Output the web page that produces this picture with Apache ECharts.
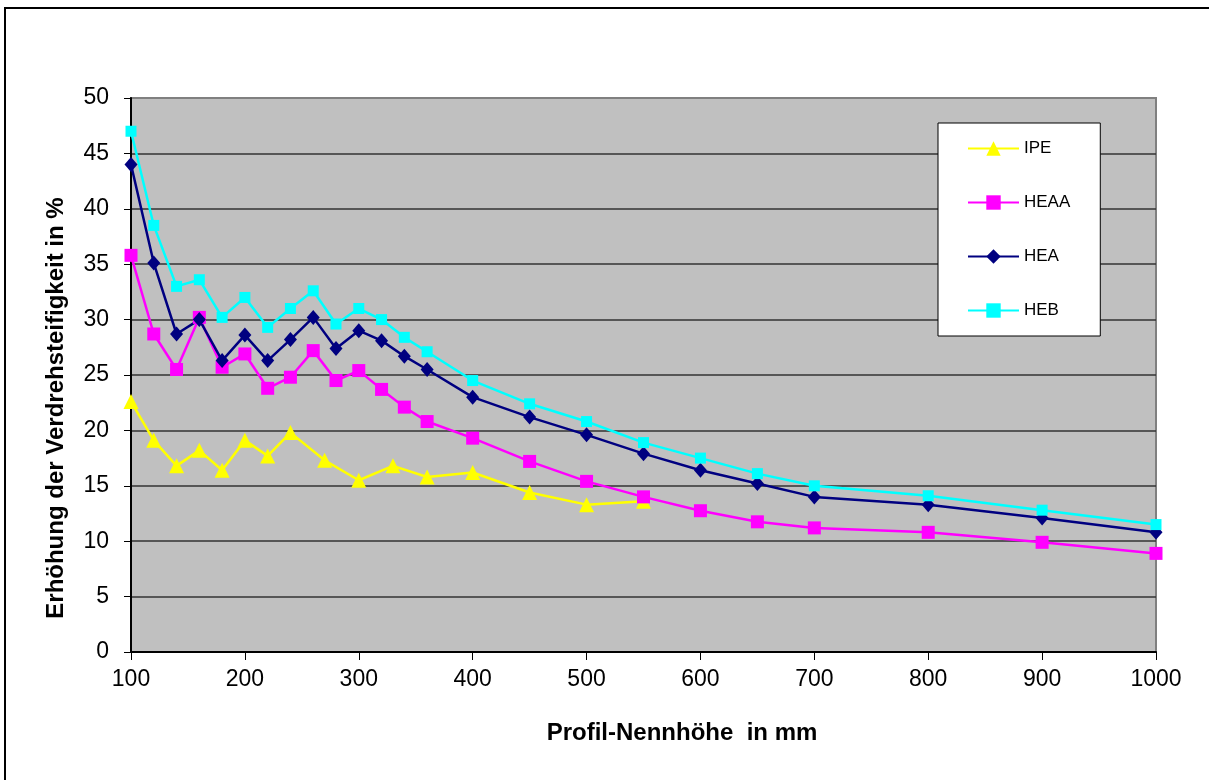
<!DOCTYPE html>
<html>
<head>
<meta charset="utf-8">
<script src="https://cdn.jsdelivr.net/npm/echarts@6/dist/echarts.min.js"></script>
<style>
  html, body { margin: 0; padding: 0; background: #ffffff; }
  #chart { width: 1209px; height: 780px; }
</style>
</head>
<body>
<div id="chart"></div>
<script>
// Profile heights (mm) for each family
const ipeSizes = [100, 120, 140, 160, 180, 200, 220, 240, 270, 300, 330, 360, 400, 450, 500, 550];
const heSizes = [100, 120, 140, 160, 180, 200, 220, 240, 260, 280, 300, 320, 340, 360, 400, 450, 500, 550, 600, 650, 700, 800, 900, 1000];

// Increase of torsional stiffness in %
const ipeValues  = [22.6, 19.1, 16.8, 18.2, 16.4, 19.1, 17.7, 19.8, 17.3, 15.5, 16.8, 15.8, 16.2, 14.4, 13.3, 13.6];
const heaaValues = [35.8, 28.7, 25.5, 30.2, 25.7, 26.9, 23.8, 24.8, 27.2, 24.5, 25.4, 23.7, 22.1, 20.8, 19.3, 17.2, 15.4, 14.0, 12.75, 11.75, 11.2, 10.8, 9.9, 8.9];
const heaValues  = [44.0, 35.1, 28.7, 30.0, 26.3, 28.6, 26.3, 28.2, 30.2, 27.4, 29.0, 28.1, 26.7, 25.5, 23.0, 21.2, 19.6, 17.9, 16.4, 15.2, 14.0, 13.3, 12.1, 10.8];
const hebValues  = [47.0, 38.5, 33.0, 33.6, 30.2, 32.0, 29.3, 31.0, 32.6, 29.6, 31.0, 30.0, 28.4, 27.1, 24.5, 22.4, 20.8, 18.9, 17.5, 16.1, 15.0, 14.1, 12.8, 11.5];

const seriesNames = ['IPE', 'HEAA', 'HEA', 'HEB'];
const xTitle = 'Profil-Nennhöhe  in mm';
const yTitle = 'Erhöhung der Verdrehsteifigkeit in %';

const FONT = '"Liberation Sans", Arial, sans-serif';

function pairs(xs, ys) {
  return xs.map((x, i) => [x, ys[i]]);
}

function lineSeries(name, data, color, symbol, size) {
  return {
    name: name,
    type: 'line',
    data: data,
    symbol: symbol,
    symbolSize: size,
    showSymbol: true,
    lineStyle: { color: color, width: 2.5 },
    itemStyle: { color: color, borderWidth: 0 },
    emphasis: { disabled: true }
  };
}

const chart = echarts.init(document.getElementById('chart'), null, { renderer: 'canvas' });

chart.setOption({
  animation: false,
  backgroundColor: '#ffffff',
  textStyle: { fontFamily: FONT },
  grid: {
    left: 131, right: 53, top: 98, bottom: 128,
    show: true,
    backgroundColor: '#C0C0C0',
    borderColor: '#808080',
    borderWidth: 2
  },
  xAxis: {
    type: 'value',
    min: 100, max: 1000, interval: 100,
    axisLine: { show: true, onZero: false, lineStyle: { color: '#000', width: 2 } },
    axisTick: { show: true, length: 8, lineStyle: { color: '#000', width: 1 } },
    axisLabel: {
      margin: 16, fontSize: 23, color: '#000', fontFamily: FONT,
      formatter: (v) => String(v)
    },
    splitLine: { show: false }
  },
  yAxis: {
    type: 'value',
    min: 0, max: 50, interval: 5,
    axisLine: { show: true, lineStyle: { color: '#000', width: 2 } },
    axisTick: { show: true, length: 7, lineStyle: { color: '#000', width: 1 } },
    axisLabel: { margin: 22, fontSize: 23, color: '#000', fontFamily: FONT },
    splitLine: { show: true, showMinLine: false, showMaxLine: false, lineStyle: { color: '#333333', width: 1.5 } }
  },
  legend: {
    orient: 'vertical',
    left: 938, top: 123,
    backgroundColor: '#ffffff',
    borderColor: '#000000',
    borderWidth: 1,
    padding: [17, 30, 17, 29],
    itemGap: 37,
    itemWidth: 51,
    itemHeight: 18,
    textStyle: { fontSize: 17, color: '#000', fontFamily: FONT },
    data: seriesNames
  },
  graphic: [
    {
      type: 'rect', z: -10, silent: true,
      shape: { x: 5, y: 8, width: 1400, height: 1000 },
      style: { fill: 'none', stroke: '#000', lineWidth: 2 }
    },
    {
      type: 'text', silent: true,
      x: 682, y: 733,
      style: {
        text: xTitle, fontFamily: FONT, fontWeight: 'bold', fontSize: 24,
        fill: '#000', align: 'center', verticalAlign: 'middle'
      }
    },
    {
      type: 'text', silent: true,
      x: 56, y: 408, rotation: Math.PI / 2,
      style: {
        text: yTitle, fontFamily: FONT, fontWeight: 'bold', fontSize: 24,
        fill: '#000', align: 'center', verticalAlign: 'middle'
      }
    }
  ],
  series: [
    lineSeries('IPE', pairs(ipeSizes, ipeValues), '#FFFF00', 'triangle', 15),
    lineSeries('HEAA', pairs(heSizes, heaaValues), '#FF00FF', 'rect', 13),
    lineSeries('HEA', pairs(heSizes, heaValues), '#000080', 'diamond', [13, 15]),
    lineSeries('HEB', pairs(heSizes, hebValues), '#00FFFF', 'rect', 11)
  ]
});
</script>
</body>
</html>
